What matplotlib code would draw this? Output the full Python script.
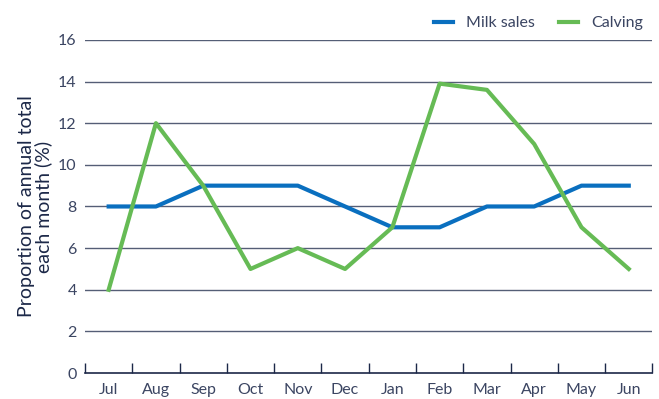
import numpy as np
import matplotlib.pyplot as plt

months = ["Jul", "Aug", "Sep", "Oct", "Nov", "Dec", "Jan", "Feb", "Mar", "Apr", "May", "Jun"]
milk_sales = [8, 8, 9, 9, 9, 8, 7, 7, 8, 8, 9, 9]
calving = [4, 12, 9, 5, 6, 5, 7, 13.9, 13.6, 11, 7, 5]

navy = "#1c2848"
text_col = "#3b4562"
plt.rcParams['font.family'] = ['Lato', 'DejaVu Sans']

fig = plt.figure(figsize=(6.59, 3.99), dpi=100)
ax = fig.add_axes([0.129, 0.065, 0.861, 0.835])
x = np.arange(len(months))

ax.plot(x, milk_sales, color="#0a6fbf", lw=3, label="Milk sales", zorder=3)
ax.plot(x, calving, color="#66bb55", lw=3, label="Calving", zorder=3)

ax.set_xlim(-0.5, 11.5)
ax.set_ylim(0, 16)
ax.set_yticks(range(0, 17, 2))
for yv in range(2, 17, 2):
    ax.axhline(yv, color=navy, lw=1, alpha=0.75, zorder=1)

ax.set_xticks(x)
ax.set_xticklabels(months)
ax.set_xticks(np.arange(-0.5, 12, 1), minor=True)
ax.tick_params(axis="x", which="major", length=0, pad=7, labelsize=11.5, labelcolor=text_col)
ax.tick_params(axis="x", which="minor", direction="in", length=7, color=navy, width=1)
ax.tick_params(axis="y", length=0, pad=6, labelsize=11.5, labelcolor=text_col)

for s in ["top", "right", "left"]:
    ax.spines[s].set_visible(False)
ax.spines["bottom"].set_color(navy)
ax.spines["bottom"].set_linewidth(1.2)

ax.set_ylabel("Proportion of annual total\neach month (%)", fontsize=14, color=navy,
              linespacing=1.0, labelpad=4)

ax.legend(loc="lower right", bbox_to_anchor=(1.0, 1.0), ncol=2, frameon=False,
          fontsize=11.5, labelcolor=text_col, handlelength=1.2, columnspacing=1.5,
          borderaxespad=0.2)

fig.savefig("out.png", dpi=100)
